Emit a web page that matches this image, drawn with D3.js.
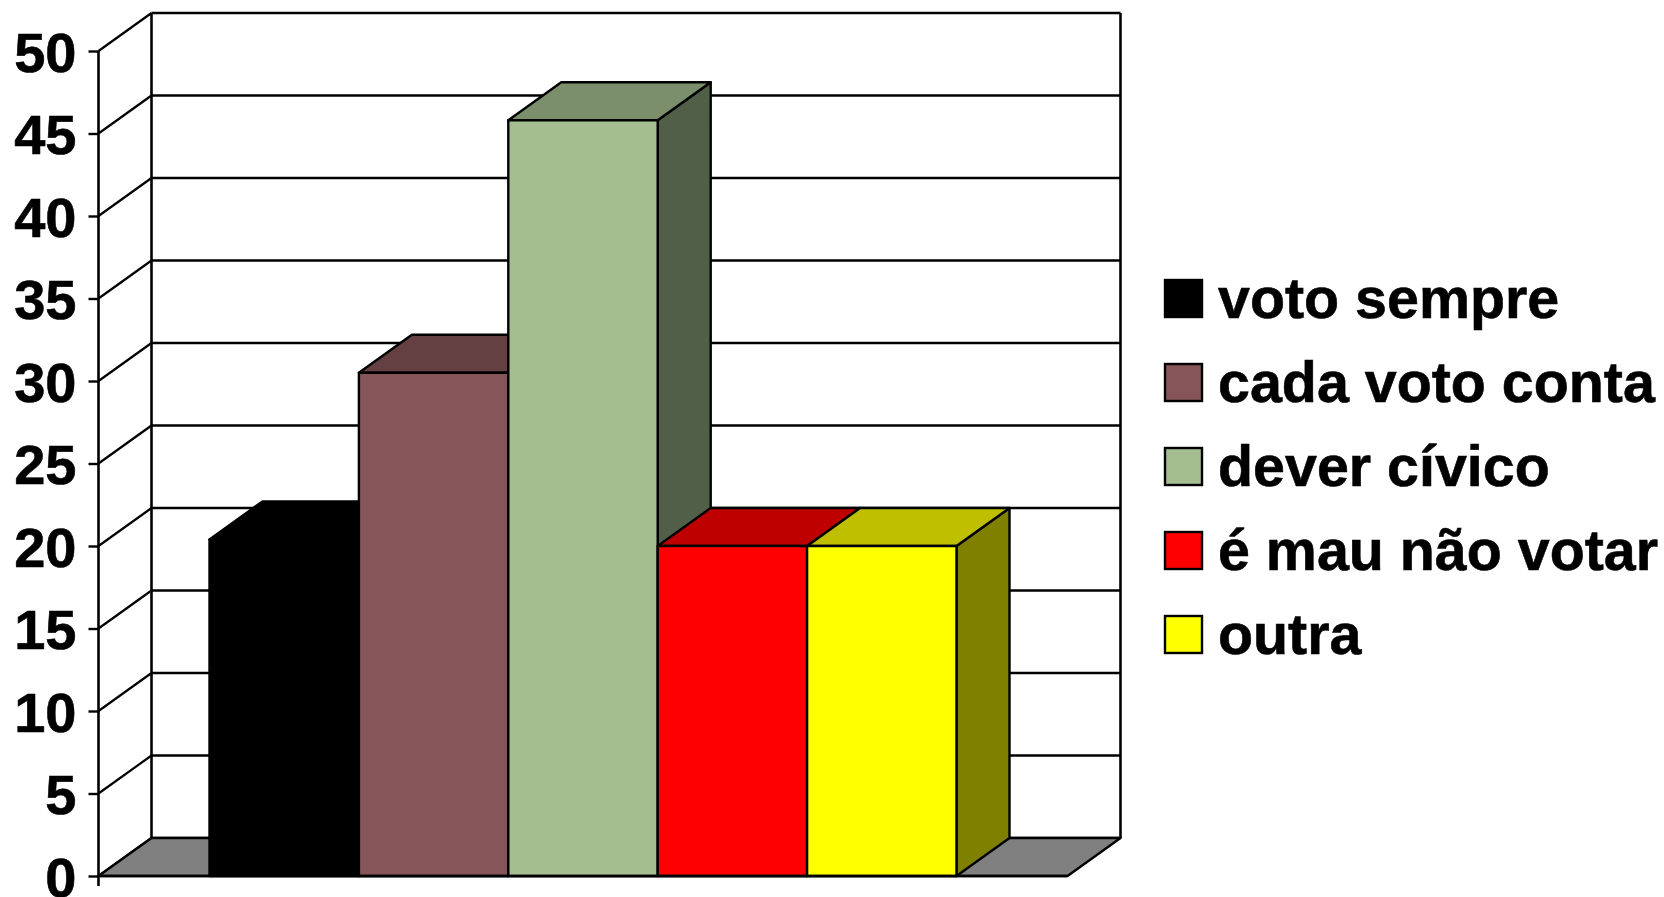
<!DOCTYPE html>
<html>
<head>
<meta charset="utf-8">
<script src="https://cdn.jsdelivr.net/npm/d3@7"></script>
<style>
    html, body { margin: 0; padding: 0; background: #fff; }
    svg { display: block; }
    text { font-family: "Liberation Sans", Arial, sans-serif; font-weight: bold; fill: #000; stroke: #000; stroke-width: 0.6px; }
</style>
</head>
<body>
<div id="chart"></div>
<script>
const categories = ["voto sempre", "cada voto conta", "dever cívico", "é mau não votar", "outra"];
const values = [20.4, 30.5, 45.8, 20, 20];
const colors = ["#000000", "#855559", "#a4be90", "#ff0000", "#ffff00"];
const yTicks = [0, 5, 10, 15, 20, 25, 30, 35, 40, 45, 50];

const width = 1664, height = 897;
const plotLeft = 98.5, plotRight = 1067.5, plotTop = 51, plotBottom = 876;
// offset of the back wall from the front plane
const depthX = 53, depthY = 38;

const svg = d3.select("#chart").append("svg")
    .attr("width", width)
    .attr("height", height);

const x = d3.scaleBand()
    .domain(categories)
    .range([plotLeft, plotRight])
    .paddingInner(0)
    .paddingOuter(0.743)
    .align(0.5);

const y = d3.scaleLinear()
    .domain([0, 50])
    .range([plotBottom, plotTop]);

const line = d3.line();

// shade a colour for the top and side faces
function shade(c, k) {
    const rgb = d3.rgb(c);
    return d3.rgb(rgb.r * k, rgb.g * k, rgb.b * k).formatHex();
}

// Back wall and gridlines
const grid = svg.append("g").attr("stroke", "#000").attr("fill", "none");

grid.selectAll("line.back")
    .data(yTicks)
    .join("line")
    .attr("class", "back")
    .attr("x1", plotLeft + depthX)
    .attr("x2", plotRight + depthX)
    .attr("y1", d => y(d) - depthY)
    .attr("y2", d => y(d) - depthY)
    .attr("stroke-width", 2.4);

grid.selectAll("line.side")
    .data(yTicks)
    .join("line")
    .attr("class", "side")
    .attr("x1", plotLeft)
    .attr("x2", plotLeft + depthX)
    .attr("y1", d => y(d))
    .attr("y2", d => y(d) - depthY)
    .attr("stroke-width", 2.2);

grid.append("path")
    .attr("stroke-width", 2.6)
    .attr("d", line([[plotLeft + depthX, y(0) - depthY], [plotLeft + depthX, y(50) - depthY]]));

grid.append("path")
    .attr("stroke-width", 2.6)
    .attr("d", line([[plotRight + depthX, y(0) - depthY], [plotRight + depthX, y(50) - depthY]]));

// Floor
svg.append("path")
    .attr("fill", "#808080")
    .attr("stroke", "#000")
    .attr("stroke-width", 2.4)
    .attr("stroke-linejoin", "round")
    .attr("d", line([
        [plotLeft, y(0)],
        [plotLeft + depthX, y(0) - depthY],
        [plotRight + depthX, y(0) - depthY],
        [plotRight, y(0)]
    ]) + "Z");

// Bars, left to right so each front face covers the previous side face
const bars = svg.append("g")
    .attr("stroke", "#000")
    .attr("stroke-width", 2.4)
    .attr("stroke-linejoin", "round")
    .selectAll("g")
    .data(categories)
    .join("g");

bars.append("path")
    .attr("fill", (d, i) => shade(colors[i], 0.5))
    .attr("d", (d, i) => {
        const x1 = x(d) + x.bandwidth();
        return line([
            [x1, y(values[i])],
            [x1 + depthX, y(values[i]) - depthY],
            [x1 + depthX, y(0) - depthY],
            [x1, y(0)]
        ]) + "Z";
    });

bars.append("path")
    .attr("fill", (d, i) => shade(colors[i], 0.75))
    .attr("d", (d, i) => {
        const x0 = x(d), x1 = x0 + x.bandwidth();
        return line([
            [x0, y(values[i])],
            [x0 + depthX, y(values[i]) - depthY],
            [x1 + depthX, y(values[i]) - depthY],
            [x1, y(values[i])]
        ]) + "Z";
    });

bars.append("rect")
    .attr("fill", (d, i) => colors[i])
    .attr("x", d => x(d))
    .attr("y", (d, i) => y(values[i]))
    .attr("width", x.bandwidth())
    .attr("height", (d, i) => y(0) - y(values[i]));

// Front axis
const axis = svg.append("g")
    .attr("transform", `translate(${plotLeft},0)`)
    .call(d3.axisLeft(y).tickValues(yTicks).tickSize(10).tickPadding(12).tickSizeOuter(0));

axis.select(".domain").remove();
axis.selectAll(".tick line").attr("stroke", "#000").attr("stroke-width", 2.4);
axis.selectAll("text").style("font-size", "56px").attr("dy", "0.36em");

axis.append("line")
    .attr("y1", y(50))
    .attr("y2", y(0) + 10)
    .attr("stroke", "#000")
    .attr("stroke-width", 2.6);

svg.append("line")
    .attr("x1", plotLeft)
    .attr("x2", plotRight)
    .attr("y1", y(0))
    .attr("y2", y(0))
    .attr("stroke", "#000")
    .attr("stroke-width", 2.6);

// Legend
const legend = svg.append("g")
    .selectAll("g")
    .data(categories)
    .join("g")
    .attr("transform", (d, i) => `translate(1165,${280 + i * 84})`);

legend.append("rect")
    .attr("width", 37)
    .attr("height", 37)
    .attr("fill", (d, i) => colors[i])
    .attr("stroke", "#000")
    .attr("stroke-width", 2.4);

legend.append("text")
    .attr("x", 53)
    .attr("y", 38)
    .style("font-size", "57.4px")
    .text(d => d);
</script>
</body>
</html>
